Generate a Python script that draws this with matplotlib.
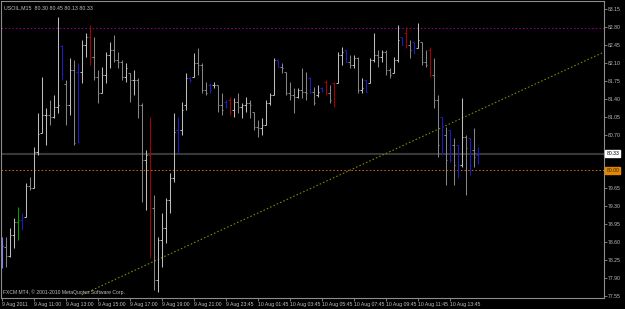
import matplotlib
matplotlib.use("Agg")
import matplotlib.pyplot as plt

# USOIL M15 bars (open, high, low, close)
opens = [78.35, 78.51, 78.33, 78.74, 78.99, 79.03, 79.09, 79.70, 79.66, 80.36,
         80.73, 81.08, 81.08, 81.04, 81.24, 82.43, 81.69, 81.28, 81.96, 81.92,
         81.92, 82.45, 82.60, 82.21, 81.82, 81.51, 81.86, 82.25, 82.35, 82.16,
         82.12, 81.82, 81.90, 81.76, 81.76, 81.28, 80.20, 80.30, 79.27, 77.86,
         78.64, 78.88, 79.42, 79.85, 80.79, 80.79, 81.28, 81.80, 81.82, 82.10,
         82.06, 81.57, 81.67, 81.67, 81.67, 81.28, 81.34, 81.37, 81.18, 81.34,
         81.24, 81.28, 81.32, 81.14, 80.85, 80.83, 80.89, 81.32, 81.47, 82.16,
         82.02, 81.92, 81.51, 81.47, 81.43, 81.57, 81.53, 81.80, 81.53, 81.47,
         81.61, 81.73, 81.51, 81.71, 81.71, 82.25, 82.35, 82.12, 82.06, 82.19,
         81.57, 81.76, 81.71, 82.16, 82.25, 82.21, 82.31, 81.96, 81.90, 82.16,
         82.60, 82.68, 82.45, 82.51, 82.39, 82.51, 82.12, 82.35, 81.86, 81.37,
         81.04, 80.69, 80.79, 80.50, 80.50, 80.11, 80.65, 80.63, 80.40, 80.30]
highs = [78.70, 78.70, 78.88, 79.07, 79.29, 79.17, 79.76, 79.87, 80.46, 81.12,
         81.82, 81.22, 81.37, 81.47, 82.99, 82.45, 81.76, 82.19, 82.16, 82.10,
         82.55, 82.68, 82.84, 82.60, 81.96, 82.02, 82.31, 82.51, 82.64, 82.31,
         82.16, 82.10, 81.90, 81.96, 81.80, 81.32, 80.40, 81.04, 79.52, 78.70,
         79.17, 79.46, 79.95, 81.12, 81.04, 81.34, 81.90, 81.82, 82.29, 82.39,
         82.10, 81.73, 81.71, 81.73, 81.67, 81.51, 81.37, 81.43, 81.41, 81.51,
         81.32, 81.43, 81.37, 81.14, 80.98, 81.02, 81.37, 81.51, 82.19, 82.16,
         82.10, 81.92, 81.73, 81.61, 81.61, 82.00, 81.92, 81.82, 81.63, 81.67,
         81.63, 81.76, 81.67, 81.73, 82.31, 82.41, 82.35, 82.25, 82.25, 82.21,
         81.80, 81.76, 82.19, 82.68, 82.35, 82.35, 82.35, 82.00, 82.21, 82.84,
         82.60, 82.80, 82.55, 82.51, 82.88, 82.51, 82.35, 82.41, 82.19, 81.47,
         81.04, 80.85, 80.79, 80.63, 80.50, 81.41, 80.69, 80.63, 80.83, 80.45]
lows = [78.10, 78.12, 78.31, 78.49, 78.64, 78.84, 79.09, 79.62, 79.66, 80.30,
        80.73, 80.50, 80.89, 81.02, 81.12, 81.76, 80.89, 81.08, 80.50, 80.54,
        81.71, 82.21, 82.06, 81.76, 81.32, 81.51, 81.71, 82.00, 82.12, 82.00,
        81.76, 81.73, 81.34, 81.47, 81.02, 79.38, 79.23, 78.29, 77.67, 77.63,
        78.12, 78.58, 79.17, 79.78, 80.34, 80.69, 81.18, 81.73, 81.82, 81.86,
        81.51, 81.47, 81.51, 81.61, 81.14, 81.08, 81.22, 81.08, 81.04, 81.12,
        81.02, 81.14, 81.02, 80.79, 80.65, 80.69, 80.89, 81.28, 81.47, 82.02,
        81.90, 81.47, 81.37, 81.12, 81.41, 81.41, 81.37, 81.51, 81.28, 81.43,
        81.53, 81.47, 81.32, 81.24, 81.71, 82.06, 82.12, 82.00, 82.00, 81.51,
        81.51, 81.53, 81.71, 82.12, 82.02, 82.12, 81.86, 81.80, 81.90, 82.12,
        82.45, 82.39, 82.19, 82.29, 82.39, 82.06, 82.02, 81.82, 81.22, 80.26,
        80.30, 79.72, 80.17, 79.72, 79.85, 80.07, 79.52, 79.91, 80.07, 80.13]
closes = [78.53, 78.33, 78.74, 78.99, 79.03, 79.07, 79.70, 79.66, 80.36, 80.71,
          81.08, 81.08, 81.04, 81.24, 81.28, 81.88, 81.28, 81.96, 80.54, 80.56,
          82.45, 82.60, 82.21, 81.82, 81.51, 81.86, 82.25, 82.35, 82.16, 82.12,
          81.82, 82.00, 81.76, 81.76, 81.28, 80.20, 80.30, 79.27, 77.86, 78.64,
          78.88, 79.42, 79.85, 80.75, 80.40, 81.18, 81.80, 81.76, 82.10, 82.06,
          81.57, 81.51, 81.57, 81.67, 81.28, 81.18, 81.24, 81.14, 81.34, 81.24,
          81.28, 81.32, 81.28, 80.85, 80.83, 80.89, 81.32, 81.47, 82.16, 82.02,
          82.00, 81.51, 81.47, 81.43, 81.57, 81.53, 81.51, 81.53, 81.32, 81.53,
          81.57, 81.51, 81.37, 81.28, 82.25, 82.31, 82.12, 82.06, 82.19, 81.57,
          81.61, 81.53, 82.16, 82.25, 82.21, 82.31, 81.96, 81.86, 82.16, 82.55,
          82.45, 82.45, 82.35, 82.29, 82.55, 82.12, 82.06, 81.86, 81.37, 80.50,
          80.40, 80.20, 80.20, 80.11, 80.11, 80.65, 80.44, 80.11, 80.26, 80.33]

# bars highlighted by the indicator
blue_bars = [5, 15, 19, 44, 47, 52, 56, 69, 77, 80, 86, 91, 100, 103, 110,
             112, 114, 117, 119]
red_bars = [22, 37, 57, 81, 83, 101, 107]
green_bars = [4]
violet_bars = [0]

time_labels = ["9 Aug 2011", "9 Aug 11:00", "9 Aug 13:00", "9 Aug 15:00",
               "9 Aug 17:00", "9 Aug 19:00", "9 Aug 21:00", "9 Aug 23:45",
               "10 Aug 01:45", "10 Aug 03:45", "10 Aug 05:45", "10 Aug 07:45",
               "10 Aug 09:45", "10 Aug 11:45", "10 Aug 13:45"]
price_ticks = [83.15, 82.80, 82.45, 82.10, 81.75, 81.40, 81.05, 80.70,
               79.65, 79.30, 78.95, 78.60, 78.25, 77.90, 77.55]

resistance = 82.78
level_80 = 80.00
bid = 80.33
trend_x = [20, 150]
trend_y = [77.57, 82.29]

font = "Liberation Sans"
fg = "#c0c0c0"

fig = plt.figure(figsize=(6.25, 3.09), dpi=100, facecolor="black")
ax = fig.add_axes([1 / 625, 11 / 309, 603 / 625, 297 / 309], facecolor="black")
ax.set_xlim(-0.175, 150.575)
ax.set_ylim(77.511, 83.307)

# horizontal levels
ax.axhline(bid, color="#383838", lw=1.5, zorder=1)
ax.axhline(level_80, color="#c8641e", lw=0.75, ls=(0, (1.5, 2)), zorder=1)
ax.axhline(resistance, color="#900090", lw=0.75, ls=(0, (1.5, 2)), zorder=1)

# trend line (ray to the right)
slope = (trend_y[1] - trend_y[0]) / (trend_x[1] - trend_x[0])
x_end = 160
ax.plot([trend_x[0], x_end], [trend_y[0], trend_y[0] + slope * (x_end - trend_x[0])],
        color="#8c8c00", lw=0.75, ls=(0, (1.5, 2)), zorder=2)

# OHLC bars
tick = 0.4
for i in range(len(opens)):
    if i in blue_bars:
        c = "#1c1cc0"
    elif i in red_bars:
        c = "#a80000"
    elif i in green_bars:
        c = "#00a000"
    elif i in violet_bars:
        c = "#8080ff"
    elif closes[i] >= opens[i]:
        c = "#bcbcbc"
    else:
        c = "#858585"
    ax.vlines(i, lows[i], highs[i], color=c, lw=0.75, zorder=3)
    ax.hlines(opens[i], i - tick, i, color=c, lw=0.75, zorder=3)
    ax.hlines(closes[i], i, i + tick, color=c, lw=0.75, zorder=3)

# axes look
for s in ax.spines.values():
    s.set_color("#8c8c8c")
    s.set_linewidth(0.8)
ax.yaxis.tick_right()
ax.set_yticks(price_ticks)
ax.set_yticklabels([f"{p:.2f}" for p in price_ticks])
ax.set_xticks(range(0, 8 * len(time_labels), 8))
ax.set_xticklabels(time_labels, ha="left")
ax.tick_params(axis="both", colors="#8c8c8c", length=2, width=0.6, labelsize=3.7,
               labelcolor=fg, pad=1)
for lab in ax.get_xticklabels() + ax.get_yticklabels():
    lab.set_fontfamily(font)

# price labels on the scale
ax.text(1.004, bid, f"{bid:.2f}", transform=ax.get_yaxis_transform(), fontsize=3.7,
        family=font, color="black", va="center", ha="left", zorder=10,
        bbox=dict(boxstyle="square,pad=0.2", fc="white", ec="white"))
ax.text(1.004, level_80, f"{level_80:.2f}", transform=ax.get_yaxis_transform(),
        fontsize=3.7, family=font, color="#3a2000", va="center", ha="left", zorder=10,
        bbox=dict(boxstyle="square,pad=0.2", fc="#e08800", ec="#e08800"))

ax.text(0.005, 0.985, "USOIL,M15  80.30 80.45 80.13 80.33", transform=ax.transAxes,
        fontsize=3.8, family=font, color=fg, va="top", ha="left")
ax.text(0.004, 0.01, "FXCM MT4, \u00a9 2001-2010 MetaQuotes Software Corp.",
        transform=ax.transAxes, fontsize=3.6, family=font, color=fg, va="bottom", ha="left")

fig.savefig("out.png", dpi=100, facecolor="black")
